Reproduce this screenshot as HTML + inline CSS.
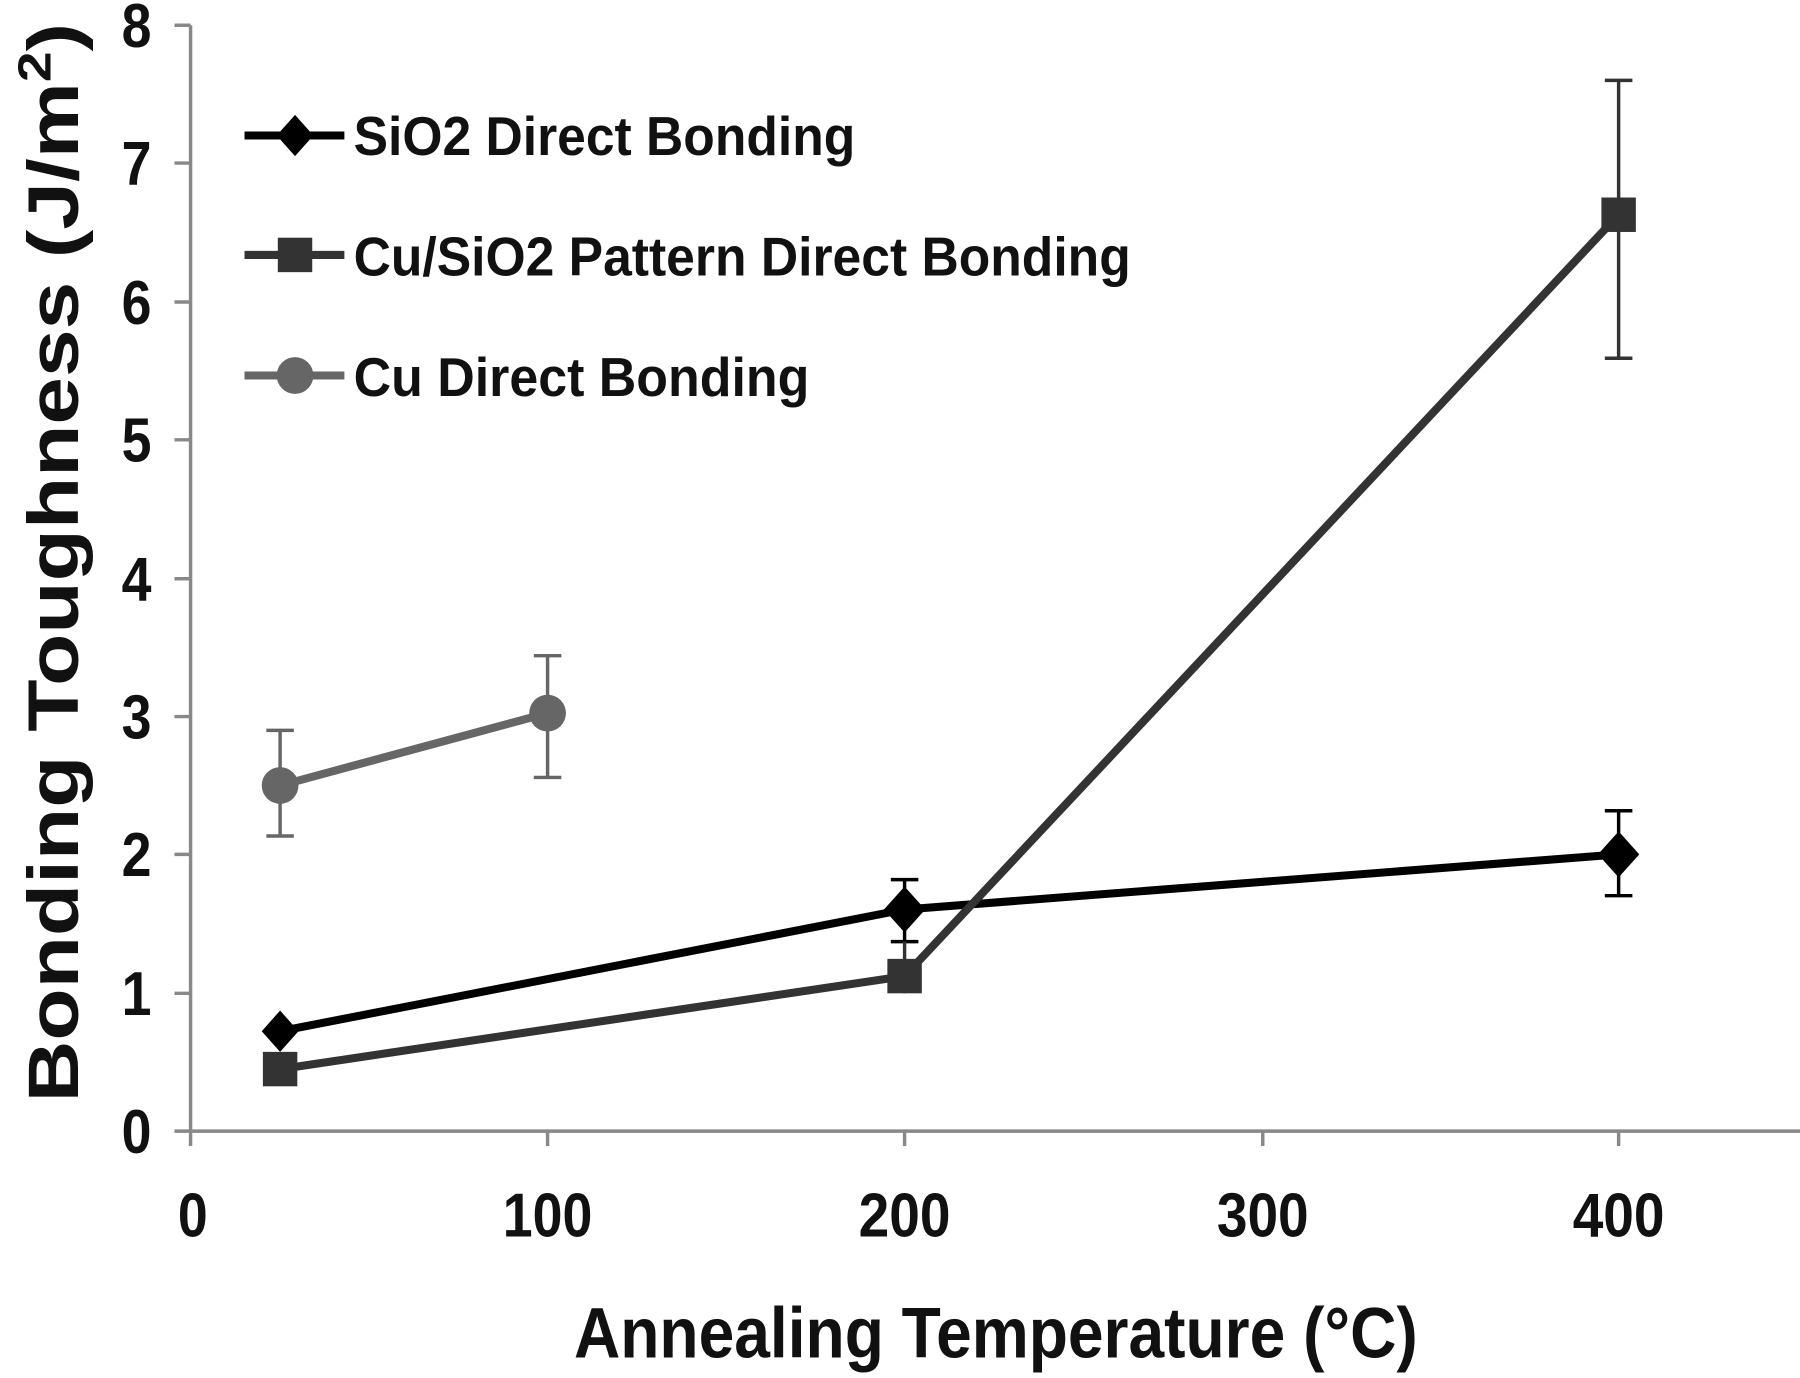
<!DOCTYPE html>
<html><head><meta charset="utf-8"><style>html,body{margin:0;padding:0;background:#fff}svg{display:block}</style></head>
<body>
<svg width="1800" height="1378" viewBox="0 0 1568 1200" preserveAspectRatio="none" xmlns="http://www.w3.org/2000/svg" font-family="Liberation Sans Narrow, Liberation Sans, sans-serif" font-weight="bold">
<rect width="1568" height="1200" fill="#fff"/>
<g stroke="#888" stroke-width="3" fill="none">
<line x1="166" y1="22" x2="166" y2="985"/>
<line x1="166" y1="985" x2="1568" y2="985"/>
<line x1="152" y1="22" x2="166" y2="22"/><line x1="152" y1="142" x2="166" y2="142"/><line x1="152" y1="263" x2="166" y2="263"/><line x1="152" y1="383" x2="166" y2="383"/><line x1="152" y1="504" x2="166" y2="504"/><line x1="152" y1="624" x2="166" y2="624"/><line x1="152" y1="744" x2="166" y2="744"/><line x1="152" y1="865" x2="166" y2="865"/><line x1="152" y1="985" x2="166" y2="985"/>
<line x1="166" y1="985" x2="166" y2="998"/><line x1="477" y1="985" x2="477" y2="998"/><line x1="788" y1="985" x2="788" y2="998"/><line x1="1100" y1="985" x2="1100" y2="998"/><line x1="1410" y1="985" x2="1410" y2="998"/>
</g>
<g font-size="54" fill="#111" text-anchor="end">
<text x="132" y="41" textLength="26" lengthAdjust="spacingAndGlyphs">8</text><text x="132" y="161" textLength="26" lengthAdjust="spacingAndGlyphs">7</text><text x="132" y="282" textLength="26" lengthAdjust="spacingAndGlyphs">6</text><text x="132" y="402" textLength="26" lengthAdjust="spacingAndGlyphs">5</text><text x="132" y="523" textLength="26" lengthAdjust="spacingAndGlyphs">4</text><text x="132" y="643" textLength="26" lengthAdjust="spacingAndGlyphs">3</text><text x="132" y="763" textLength="26" lengthAdjust="spacingAndGlyphs">2</text><text x="132" y="884" textLength="26" lengthAdjust="spacingAndGlyphs">1</text><text x="132" y="1004" textLength="26" lengthAdjust="spacingAndGlyphs">0</text>
</g>
<g font-size="54" fill="#111" text-anchor="middle">
<text x="168" y="1077" textLength="26" lengthAdjust="spacingAndGlyphs">0</text><text x="477" y="1077" textLength="78" lengthAdjust="spacingAndGlyphs">100</text><text x="788" y="1077" textLength="80" lengthAdjust="spacingAndGlyphs">200</text><text x="1100" y="1077" textLength="80" lengthAdjust="spacingAndGlyphs">300</text><text x="1410" y="1077" textLength="80" lengthAdjust="spacingAndGlyphs">400</text>
</g>
<text x="500" y="1182" font-size="62" fill="#111" textLength="735" lengthAdjust="spacingAndGlyphs">Annealing Temperature (°C)</text>
<text transform="translate(68,960) rotate(-90)" font-size="62" fill="#111" textLength="940" lengthAdjust="spacingAndGlyphs">Bonding Toughness (J/m<tspan font-size="40" dy="-24">2</tspan><tspan dy="24">)</tspan></text>
<g stroke-width="3" fill="none">
<g stroke="#000"><path d="M788 766V820M776 766H800M776 820H800M1410 706V780M1398 706H1422M1398 780H1422"/></g>
<g stroke="#333"><path d="M1410 70V312M1398 70H1422M1398 312H1422M788 820V865"/></g>
<g stroke="#666"><path d="M244 636V728M232 636H256M232 728H256M477 571V677M465 571H489M465 677H489"/></g>
</g>
<polyline points="244,898 788,792 1410,744" stroke="#000" stroke-width="7" fill="none"/>
<polyline points="244,931 788,850 1410,187" stroke="#333" stroke-width="7" fill="none"/>
<polyline points="244,684 477,621" stroke="#666" stroke-width="7" fill="none"/>
<g fill="#000"><path d="M244 880l16 18-16 18-16-18z"/><path d="M788 772l18 20-18 20-18-20z"/><path d="M1410 724l18 20-18 20-18-20z"/></g>
<g fill="#333"><rect x="229" y="916" width="30" height="30"/><rect x="773" y="835" width="30" height="30"/><rect x="1395" y="172" width="30" height="30"/></g>
<g fill="#666"><circle cx="244" cy="684" r="16"/><circle cx="477" cy="621" r="16"/></g>
<line x1="213" y1="118" x2="300" y2="118" stroke="#000" stroke-width="7"/><path d="M257 100l16 18-16 18-16-18z" fill="#000"/>
<line x1="213" y1="222" x2="300" y2="222" stroke="#333" stroke-width="7"/><rect x="242" y="207" width="30" height="30" fill="#333"/>
<line x1="213" y1="327" x2="300" y2="327" stroke="#666" stroke-width="7"/><circle cx="257" cy="327" r="16" fill="#666"/>
<g font-size="48" fill="#111">
<text x="308" y="135" textLength="437" lengthAdjust="spacingAndGlyphs">SiO2 Direct Bonding</text>
<text x="308" y="240" textLength="677" lengthAdjust="spacingAndGlyphs">Cu/SiO2 Pattern Direct Bonding</text>
<text x="308" y="345" textLength="397" lengthAdjust="spacingAndGlyphs">Cu Direct Bonding</text>
</g>
</svg>
</body></html>
